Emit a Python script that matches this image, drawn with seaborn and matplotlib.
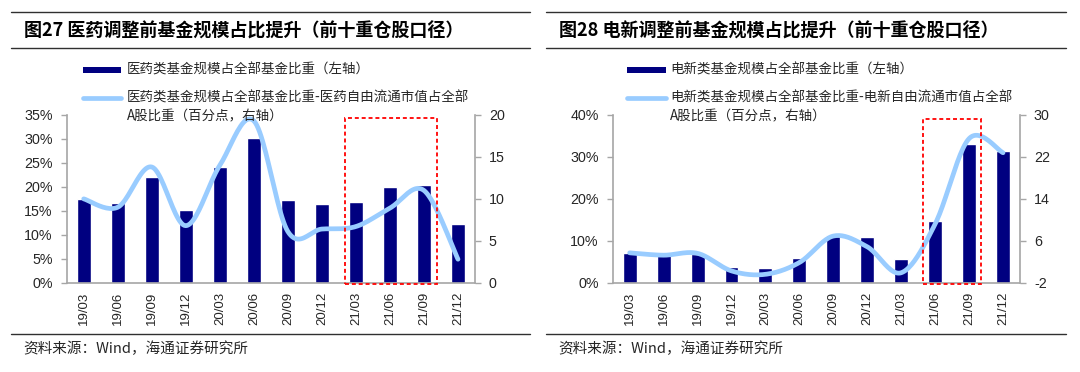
import numpy as np
import pandas as pd
import matplotlib
matplotlib.use("Agg")
import matplotlib.pyplot as plt
from matplotlib.patches import Rectangle
from matplotlib.lines import Line2D
from matplotlib.ticker import FuncFormatter
import seaborn as sns

# ---------------- data ----------------
quarters = ["19/03", "19/06", "19/09", "19/12", "20/03", "20/06",
            "20/09", "20/12", "21/03", "21/06", "21/09", "21/12"]

med_fund_share = [17.5, 16.6, 22.0, 15.2, 24.1, 30.2, 17.3, 16.4, 16.9, 20.0, 20.4, 12.2]
med_excess = [10.0, 9.0, 13.8, 6.8, 14.0, 19.3, 6.1, 6.4, 6.7, 8.9, 11.0, 2.8]

ev_fund_share = [7.1, 6.5, 6.9, 3.8, 3.6, 5.8, 11.4, 11.0, 5.6, 14.6, 33.0, 31.3]
ev_excess = [3.7, 3.25, 3.6, 0.25, -0.4, 1.85, 6.9, 4.85, -0.1, 9.2, 25.5, 22.8]

titles = ["图27 医药调整前基金规模占比提升（前十重仓股口径）",
          "图28 电新调整前基金规模占比提升（前十重仓股口径）"]
bar_labels = ["医药类基金规模占全部基金比重（左轴）",
              "电新类基金规模占全部基金比重（左轴）"]
line_labels = [["医药类基金规模占全部基金比重-医药自由流通市值占全部", "A股比重（百分点，右轴）"],
               ["电新类基金规模占全部基金比重-电新自由流通市值占全部", "A股比重（百分点，右轴）"]]
source_text = "资料来源：Wind，海通证券研究所"

# ---------------- style ----------------
sns.set_style("white")
plt.rcParams["font.family"] = ["Noto Sans CJK SC", "DejaVu Sans"]
plt.rcParams["axes.unicode_minus"] = False

NAVY = "#000080"
LIGHT = "#99CCFF"
GRAY = "#A6A6A6"
TICKFONT = ["Liberation Sans", "DejaVu Sans"]


def smooth_curve(xs, ys, n=24):
    """Excel-like smoothed rendering (Catmull-Rom as cubic Bezier)."""
    xs = np.asarray(xs, float)
    ys = np.asarray(ys, float)
    P = np.column_stack([xs, ys])
    Pe = np.vstack([P[0], P, P[-1]])
    out = []
    t = np.linspace(0, 1, n)[:, None]
    for i in range(len(P) - 1):
        p0, p1, p2, p3 = Pe[i], Pe[i + 1], Pe[i + 2], Pe[i + 3]
        c1 = p1 + (p2 - p0) / 6.0
        c2 = p2 - (p3 - p1) / 6.0
        seg = ((1 - t) ** 3) * p1 + 3 * ((1 - t) ** 2) * t * c1 + 3 * (1 - t) * t ** 2 * c2 + t ** 3 * p2
        out.append(seg if i == 0 else seg[1:])
    out = np.vstack(out)
    return out[:, 0], out[:, 1]


W, H = 1080, 372
fig = plt.figure(figsize=(W / 100, H / 100), dpi=100)


def fx(px):
    return px / W


def fy(py):
    return 1 - py / H


panels = [
    dict(x0=66.7, x1=475.0, bars=med_fund_share, line=med_excess,
         ylim=(0, 35), yticks=np.arange(0, 36, 5), y2lim=(0, 20), y2ticks=np.arange(0, 21, 5),
         rect=(7.68, 10.39, -0.35, 34.3),
         rule=(10.5, 530.0), title_x=24.0, leg_patch=(82.8, 120.7), leg_text=126.6, src_x=23.3),
    dict(x0=612.7, x1=1020.0, bars=ev_fund_share, line=ev_excess,
         ylim=(0, 40), yticks=np.arange(0, 41, 10), y2lim=(-2, 30), y2ticks=np.arange(-2, 31, 8),
         rect=(8.63, 10.35, -0.38, 38.98),
         rule=(546.0, 1066.0), title_x=559.0, leg_patch=(627.0, 666.0), leg_text=670.0, src_x=558.0),
]

for k, p in enumerate(panels):
    ax = fig.add_axes([fx(p["x0"]), fy(282.7), fx(p["x1"] - p["x0"]), (282.7 - 115.0) / H])
    df = pd.DataFrame({"quarter": quarters, "share": p["bars"]})
    sns.barplot(data=df, x="quarter", y="share", ax=ax, color=NAVY, saturation=1,
                width=0.41, errorbar=None, zorder=2)
    ax.set_xlabel("")
    ax.set_ylabel("")
    ax.set_ylim(*p["ylim"])
    ax.set_yticks(p["yticks"])
    ax.yaxis.set_major_formatter(FuncFormatter(lambda v, _: f"{v:.0f}%"))
    ax.set_xlim(-0.5, len(quarters) - 0.5)
    ax.set_xticks(range(len(quarters)))
    ax.set_xticklabels(quarters, rotation=90, family=TICKFONT, fontsize=9.5)
    ax.set_xticks(np.arange(-0.5, len(quarters), 1), minor=True)
    ax.tick_params(axis="x", which="major", length=0, pad=6.5)
    ax.tick_params(axis="x", which="minor", length=4, color=GRAY, direction="out", width=1)
    ax.tick_params(axis="y", which="major", length=4, color=GRAY, direction="out", pad=6, width=1)
    for lab in ax.get_yticklabels():
        lab.set_family(TICKFONT)
        lab.set_fontsize(10.3)
    for s in ["top", "right"]:
        ax.spines[s].set_visible(False)
    for s in ["left", "bottom"]:
        ax.spines[s].set_color(GRAY)
        ax.spines[s].set_linewidth(1.2)
    ax.grid(False)

    ax2 = ax.twinx()
    xs, ys = smooth_curve(np.arange(len(quarters)), p["line"])
    sns.lineplot(x=xs, y=ys, ax=ax2, sort=False, estimator=None, color=LIGHT,
                 linewidth=3.4, solid_capstyle="round", zorder=3)
    ax2.set_ylim(*p["y2lim"])
    ax2.set_yticks(p["y2ticks"])
    ax2.set_xlim(-0.5, len(quarters) - 0.5)
    ax2.tick_params(axis="y", which="major", length=4, color=GRAY, direction="out", pad=6, width=1)
    for lab in ax2.get_yticklabels():
        lab.set_family(TICKFONT)
        lab.set_fontsize(10.3)
    for s in ["top", "left", "bottom"]:
        ax2.spines[s].set_visible(False)
    ax2.spines["right"].set_color(GRAY)
    ax2.spines["right"].set_linewidth(1.2)
    ax2.set_ylabel("")
    ax2.grid(False)

    rx0, rx1, ry0, ry1 = p["rect"]
    ax2.add_patch(Rectangle((rx0, ry0), rx1 - rx0, ry1 - ry0, transform=ax.transData,
                            fill=False, ec="#FF0000", lw=1.3, ls=(0, (2.2, 1.6)),
                            clip_on=False, zorder=5))

    # title block rules
    r0, r1 = p["rule"]
    for py in (12.4, 47.6, 334.0):
        fig.add_artist(Line2D([fx(r0), fx(r1)], [fy(py), fy(py)], color="#303030", lw=1.0))
    fig.text(fx(p["title_x"]), fy(31.5), titles[k], fontsize=13, fontweight="bold",
             ha="left", va="center", color="black")

    # legend
    lp0, lp1 = p["leg_patch"]
    fig.add_artist(Rectangle((fx(lp0), fy(72.8)), fx(lp1 - lp0), 5.6 / H, color=NAVY, lw=0))
    fig.add_artist(Line2D([fx(lp0), fx(lp1)], [fy(97.6), fy(97.6)], color=LIGHT, lw=3.4,
                          solid_capstyle="round"))
    fig.text(fx(p["leg_text"]), fy(70.0), bar_labels[k], fontsize=9.7, ha="left", va="center")
    fig.text(fx(p["leg_text"]), fy(97.6), line_labels[k][0], fontsize=9.7, ha="left", va="center")
    fig.text(fx(p["leg_text"]), fy(116.5), line_labels[k][1], fontsize=9.7, ha="left", va="center")

    # source
    fig.text(fx(p["src_x"]), fy(349.0), source_text, fontsize=10.5, ha="left", va="center")

fig.savefig("out.png", dpi=100, facecolor="white")
